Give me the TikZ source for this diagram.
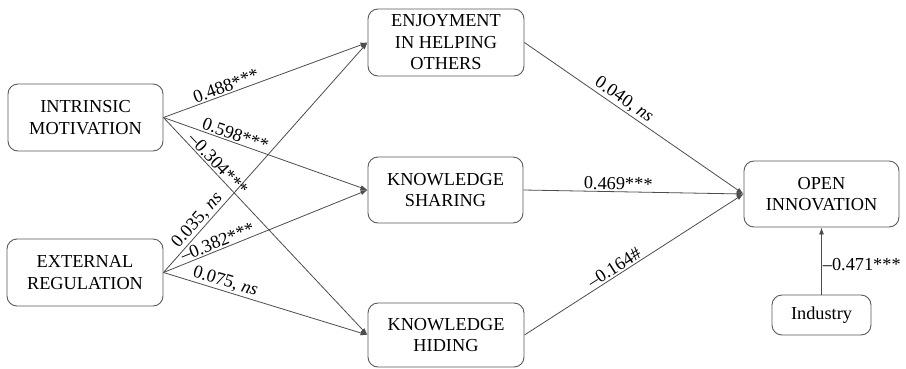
\documentclass[tikz,border=0pt]{standalone}
\usepackage{fontspec}
\setmainfont{Liberation Serif}
\usetikzlibrary{arrows.meta}
\begin{document}
\begin{tikzpicture}[x=1pt,y=-1pt,
  box/.style={draw=black!65,line width=0.9pt,rounded corners=10pt,align=center,
    font=\fontsize{18.3}{21.5}\selectfont,inner sep=0pt},
  conn/.style={draw=black!70,line width=0.8pt,-{Latex[length=7pt,width=5pt]}},
  lab/.style={font=\fontsize{18.3}{21}\selectfont,inner sep=1.5pt,sloped,above}]
\useasboundingbox (0,0) rectangle (906,368);
\node[box,minimum width=155pt,minimum height=67pt] (im) at (85.5,117.5) {INTRINSIC\\MOTIVATION};
\node[box,minimum width=156pt,minimum height=67pt] (er) at (85,272.5) {EXTERNAL\\REGULATION};
\node[box,minimum width=156pt,minimum height=67pt] (enj) at (446,42.5) {ENJOYMENT\\IN HELPING\\OTHERS};
\node[box,minimum width=155pt,minimum height=66pt] (ks) at (445.5,190) {KNOWLEDGE\\SHARING};
\node[box,minimum width=156pt,minimum height=64pt] (kh) at (446,335) {KNOWLEDGE\\HIDING};
\node[box,minimum width=155pt,minimum height=66pt] (oi) at (821.5,194) {OPEN\\INNOVATION};
\node[box,minimum width=99pt,minimum height=40pt] (ind) at (821.5,315) {Industry};

\draw[conn] (im.east) -- node[lab,pos=0.32] (l1) {0.488***} (enj.west);
\draw[conn] (im.east) -- node[lab,pos=0.34] (l2) {0.598***} (ks.west);
\draw[conn] (im.east) -- node[lab,pos=0.24] (l3) {\textendash0.304***} (kh.west);
\draw[conn] (er.east) -- node[lab,pos=0.2] (l4) {0.035, \textit{ns}} (enj.west);
\draw[conn] (er.east) -- node[lab,pos=0.28] (l5) {\textendash0.382***} (ks.west);
\draw[conn] (er.east) -- node[lab,pos=0.29] (l6) {0.075, \textit{ns}} (kh.west);
\draw[conn] (enj.east) -- node[lab,pos=0.43] (l7) {0.040, \textit{ns}} (oi.west);
\draw[conn] (ks.east) -- node[lab,pos=0.43] (l8) {0.469***} (oi.west);
\draw[conn] (kh.east) -- node[lab,pos=0.43] (l9) {\textendash0.164\#} (oi.west);
\draw[conn] (ind.north) -- node[font=\fontsize{18.3}{21}\selectfont,right,inner sep=1pt,pos=0.45] (l10) {\textendash0.471***} (oi.south);
\end{tikzpicture}
\end{document}
